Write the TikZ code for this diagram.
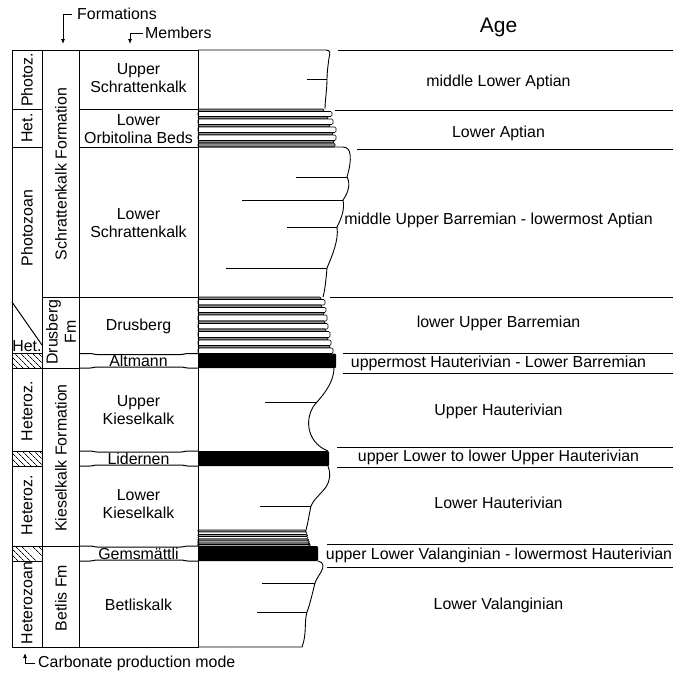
\documentclass[tikz,border=0pt]{standalone}
\usepackage{fontspec}
\setmainfont{Liberation Sans}
\usetikzlibrary{arrows.meta}
\usetikzlibrary{patterns.meta}
\newcommand{\hatchcell}[2]{\draw[tbl, pattern={Lines[angle=-45,distance=4pt,line width=0.7pt]}] ( 12 , #1 ) rectangle ( 42 , #2 );}
\newcommand{\bed}[4]{\filldraw[fill=#4, line width=0.6pt, rounded corners=1.2pt] ( 198 , #1 ) rectangle ( #3 , #2 );}
\newcommand{\marker}[3]{\fill[black, rounded corners=1pt] ( 198 , #1 ) rectangle ( #3 , #2 );}
\newcommand{\bandlabel}[4]{\draw[tbl, rounded corners=1pt] (79,#2) -- (91,#2) -- (96,{#2+1}) -- (182,{#2+1}) -- (187,#2) -- (198,#2); \draw[tbl, rounded corners=1pt] (79,#3) -- (91,#3) -- (96,{#3-1}) -- (182,{#3-1}) -- (187,#3) -- (198,#3); \node[lbl] (#1) at (138.5,{(#2+#3)/2}) {#4};}

\begin{document}
\begin{tikzpicture}[x=1pt, y=-1pt,
    tbl/.style={line width=1pt},
    logline/.style={line width=0.9pt},
    rule/.style={line width=0.9pt},
    lbl/.style={font=\fontsize{15.9}{18.3}\selectfont, align=center, inner sep=0pt},
    vlbl/.style={lbl, rotate=90},
    arr/.style={line width=0.8pt, -{Latex[length=5pt,width=4pt]}}]
        \useasboundingbox (0,0) rectangle (683,673);
        % header
        \node[lbl, anchor=west, inner xsep=5pt] (formations) at (72,14) {Formations};
        \coordinate (formtip) at (63,44);
        \draw[arr] (formations.west) -| (formtip);
        \node[lbl, anchor=west, inner xsep=2pt] (members) at (143,33) {Members};
        \coordinate (membtip) at (130,44);
        \draw[arr] (members.west) -| (membtip);
        \node[font=\fontsize{21}{24}\selectfont, inner sep=0pt] (age) at (498.5,27) {Age};
        % log: Upper Schrattenkalk
        \draw[logline] (198,50) -- (326,50) .. controls (331,50) and (330,54) .. (329,58) .. controls (328,66) and (327,72) .. (327,79) .. controls (327,90) and (325,100) .. (325,109);
        \draw[logline] (307,79) -- (327,79);
        % log: Lower Orbitolina Beds
        \bed{109}{111.5}{324}{black!45}
        \bed{111.5}{116.5}{332}{white}
        \bed{116.5}{119}{328}{black!45}
        \bed{119}{124.5}{333}{white}
        \bed{124.5}{127}{330}{black!45}
        \bed{127}{132.5}{336}{white}
        \bed{132.5}{135}{333}{black!45}
        \bed{135}{140.5}{336}{white}
        \bed{140.5}{143}{334}{black!45}
        \bed{143}{147}{335}{black!45}
        % log: Lower Schrattenkalk
        \draw[logline] (198,147) -- (343,147) .. controls (352,147) and (352,160) .. (347,177) .. controls (351,184) and (348,193) .. (343,200) .. controls (345,210) and (341,219) .. (337,227) .. controls (339,240) and (332,256) .. (327,268) .. controls (326,280) and (325,290) .. (323,297);
        \draw[logline] (296,177) -- (347,177);
        \draw[logline] (242,200) -- (343,200);
        \draw[logline] (287,227) -- (337,227);
        \draw[logline] (226,268) -- (327,268);
        % log: Drusberg
        \bed{297}{299.5}{321}{black!45}
        \bed{299.5}{305}{325}{white}
        \bed{305}{307.5}{322}{black!45}
        \bed{307.5}{312.5}{326}{white}
        \bed{312.5}{315}{324}{black!45}
        \bed{315}{321}{327}{white}
        \bed{321}{323.5}{325}{black!45}
        \bed{323.5}{329}{328}{white}
        \bed{329}{331.5}{326}{black!45}
        \bed{331.5}{337.5}{330}{white}
        \bed{337.5}{340}{328}{black!45}
        \bed{340}{345.5}{331}{white}
        \bed{345.5}{348}{330}{black!45}
        \bed{348}{353.5}{333}{white}
        % log: Altmann
        \marker{353.5}{368}{336}
        % log: Upper Kieselkalk
        \draw[logline] (334,368) .. controls (334,381) and (325,393) .. (317,402) .. controls (304,415) and (305,442) .. (328,451);
        \draw[logline] (265,402) -- (317,402);
        % log: Lidernen
        \marker{451}{466}{329}
        % log: Lower Kieselkalk
        \draw[logline] (328,466) .. controls (331,473) and (330,481) .. (326,487) .. controls (320,495) and (313,500) .. (311,506) .. controls (309,515) and (308,523) .. (306,530);
        \draw[logline] (260,506) -- (311,506);
        \bed{530}{532}{306}{black!35}
        \bed{532}{534.5}{307}{white}
        \bed{534.5}{536.5}{307.5}{black!35}
        \bed{536.5}{539}{308}{white}
        \bed{539}{541}{308.5}{black!35}
        \bed{541}{543}{309}{white}
        \bed{543}{544.5}{309.5}{black!35}
        \bed{544.5}{546}{310}{white}
        % log: Gemsmättli
        \marker{546}{561}{318}
        % log: Betliskalk
        \draw[logline] (318,561) .. controls (324,562) and (324,567) .. (321,572) .. controls (318,577) and (316,580) .. (315,583) .. controls (312,595) and (310,604) .. (307,612) .. controls (304,622) and (307,634) .. (302,647) -- (198,647);
        \draw[logline] (262,583) -- (315,583);
        \draw[logline] (257,612) -- (307,612);
        % table frame
        \draw[tbl] (12,50) rectangle (198,647);
        \draw[tbl] (42,50) -- (42,647);
        \draw[tbl] (79,50) -- (79,647);
        \draw[tbl] (12,109) -- (42,109);
        \draw[tbl] (79,109) -- (198,109);
        \draw[tbl] (12,147) -- (42,147);
        \draw[tbl] (79,147) -- (198,147);
        \draw[tbl] (42,297) -- (198,297);
        \draw[tbl] (12,302) -- (42,345);
        \draw[tbl] (42,368) -- (79,368);
        \draw[tbl] (42,546) -- (79,546);
        \hatchcell{353.5}{368}
        \hatchcell{451}{466}
        \hatchcell{546}{561}
        % production mode
        \node[vlbl] (photoz) at (27,80) {Photoz.};
        \node[vlbl] (hetA) at (27,128) {Het.};
        \node[vlbl] (photozoan) at (27,228) {Photozoan};
        \node[lbl] (hetB) at (27,346.5) {Het.};
        \node[vlbl] (heterozA) at (27,411) {Heteroz.};
        \node[vlbl] (heterozB) at (27,505) {Heteroz.};
        \node[vlbl] (heterozoan) at (27,603) {Heterozoan};
        % formations
        \node[vlbl] (schrattenfm) at (61,174) {Schrattenkalk Formation};
        \node[vlbl] (drusbergfm) at (61,332) {Drusberg\\Fm};
        \node[vlbl] (kieselfm) at (61,458) {Kieselkalk Formation};
        \node[vlbl] (betlisfm) at (61,598) {Betlis Fm};
        % members
        \node[lbl] (uschratten) at (138.5,78) {Upper\\Schrattenkalk};
        \node[lbl] (orbitolina) at (138.5,129) {Lower\\Orbitolina Beds};
        \node[lbl] (lschratten) at (138.5,223) {Lower\\Schrattenkalk};
        \node[lbl] (drusberg) at (138.5,326) {Drusberg};
        \bandlabel{altmann}{353.5}{368}{Altmann}
        \node[lbl] (ukiesel) at (138.5,410) {Upper\\Kieselkalk};
        \bandlabel{lidernen}{451}{466}{Lidernen}
        \node[lbl] (lkiesel) at (138.5,504) {Lower\\Kieselkalk};
        \bandlabel{gems}{546}{561}{Gemsmättli}
        \node[lbl] (betliskalk) at (138.5,605) {Betliskalk};
        % age
        \draw[rule] (338,50) -- (673,50);
        \draw[rule] (335,110) -- (673,110);
        \draw[rule] (357,149) -- (673,149);
        \draw[rule] (330,297) -- (673,297);
        \draw[rule] (343,353) -- (673,353);
        \draw[rule] (343,373) -- (673,373);
        \draw[rule] (337,447) -- (673,447);
        \draw[rule] (337,467) -- (673,467);
        \draw[rule] (327,544) -- (673,544);
        \draw[rule] (327,567) -- (673,567);
        \node[lbl] (ageA) at (498.5,82) {middle Lower Aptian};
        \node[lbl] (ageB) at (498.5,133) {Lower Aptian};
        \node[lbl] (ageC) at (498.5,220) {middle Upper Barremian - lowermost Aptian};
        \node[lbl] (ageD) at (498.5,323) {lower Upper Barremian};
        \node[lbl] (ageE) at (498.5,363) {uppermost Hauterivian - Lower Barremian};
        \node[lbl] (ageF) at (498.5,411) {Upper Hauterivian};
        \node[lbl] (ageG) at (498.5,457.5) {upper Lower to lower Upper Hauterivian};
        \node[lbl] (ageH) at (498.5,503) {Lower Hauterivian};
        \node[lbl] (ageI) at (499,555) {upper Lower Valanginian - lowermost Hauterivian};
        \node[lbl] (ageJ) at (498.5,605) {Lower Valanginian};
        % footer
        \node[lbl, anchor=west, inner xsep=3pt] (prodmode) at (35,663) {Carbonate production mode};
        \coordinate (prodtip) at (25,653);
        \draw[arr] (prodmode.west) -| (prodtip);
\end{tikzpicture}
\end{document}
